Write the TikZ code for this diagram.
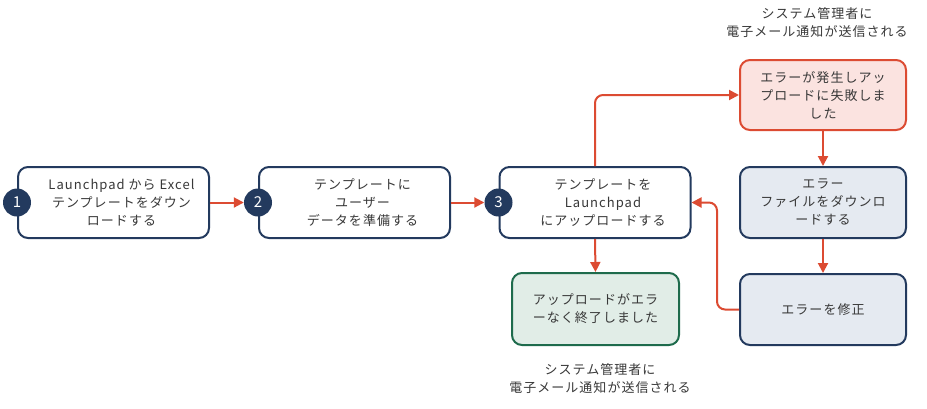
\documentclass[tikz,border=0pt]{standalone}
\usepackage{fontspec}
\setmainfont{Noto Sans CJK JP}[LetterSpace=8]
\usepackage{xcolor}
\usepackage{tikz}
\usetikzlibrary{arrows.meta}
\definecolor{navy}{HTML}{233A5E}
\definecolor{errred}{HTML}{DC4B32}
\definecolor{errfill}{HTML}{FBE3E0}
\definecolor{greyfill}{HTML}{E5EAF1}
\definecolor{okgreen}{HTML}{1E6B4C}
\definecolor{okfill}{HTML}{E1EDE7}
\definecolor{txt}{HTML}{383838}

\begin{document}
\begin{tikzpicture}[x=1pt, y=-1pt,
        stepbox/.style={draw=navy, line width=2pt, fill=white, rounded corners=10pt, minimum width=191pt, minimum height=71pt},
        errbox/.style={draw=errred, line width=2pt, fill=errfill, rounded corners=10pt, minimum width=166pt, minimum height=70pt, align=center, text=txt, font=\fontsize{13}{18}\selectfont},
        fixbox/.style={draw=navy, line width=2pt, fill=greyfill, rounded corners=10pt, minimum width=166pt, minimum height=71pt, align=center, text=txt, font=\fontsize{13}{18}\selectfont},
        okbox/.style={draw=okgreen, line width=2pt, fill=okfill, rounded corners=10pt, minimum width=167pt, minimum height=72pt, align=center, text=txt, font=\fontsize{13}{18}\selectfont},
        boxtext/.style={align=center, text=txt, font=\fontsize{13}{18}\selectfont},
        num/.style={circle, fill=navy, text=white, minimum size=28pt, inner sep=0pt, font=\fontsize{15}{15}\selectfont},
        note/.style={align=center, text=txt, font=\fontsize{13}{18}\selectfont},
        arr/.style={-{Triangle[length=10pt,width=10pt]}, draw=errred, line width=2pt, rounded corners=8pt}]
        \useasboundingbox (0,0) rectangle (927,408);

        % main steps
        \node[stepbox] at (113.5, 202.5) (b1) {};
        \node[boxtext] at ([xshift=8pt]b1.center) (t1) {Launchpad から Excel\\テンプレートをダウン\\ロードする};
        \node[num] at (b1.west) (c1) {1};

        \node[stepbox] at (354.5, 202.5) (b2) {};
        \node[boxtext] at ([xshift=8pt]b2.center) (t2) {テンプレートに\\ユーザー\\データを準備する};
        \node[num] at (b2.west) (c2) {2};

        \node[stepbox] at (595, 202.5) (b3) {};
        \node[boxtext] at ([xshift=8pt]b3.center) (t3) {テンプレートを\\Launchpad\\にアップロードする};
        \node[num] at (b3.west) (c3) {3};

        % error path
        \node[errbox] at (823, 95) (err) {エラーが発生しアッ\\プロードに失敗しま\\した};
        \node[fixbox] at (823, 202.5) (dl) {エラー\\ファイルをダウンロ\\ードする};
        \node[fixbox] at (823, 309.5) (fix) {エラーを修正};

        % success
        \node[okbox] at (595.5, 309) (ok) {アップロードがエラ\\ーなく終了しました};

        \node[note] at (817, 23) (n1) {システム管理者に\\電子メール通知が送信される};
        \node[note] at (600, 379) (n2) {システム管理者に\\電子メール通知が送信される};

        \draw[arr] (b1.east) -- (c2.west);
        \draw[arr] (b2.east) -- (c3.west);
        \draw[arr] (b3.north) |- (err.west);
        \draw[arr] (err.south) -- (dl.north);
        \draw[arr] (dl.south) -- (fix.north);
        \draw[arr] (fix.west) -- ++(-22,0) |- (b3.east);
        \draw[arr] (b3.south) -- (ok.north);
\end{tikzpicture}
\end{document}
